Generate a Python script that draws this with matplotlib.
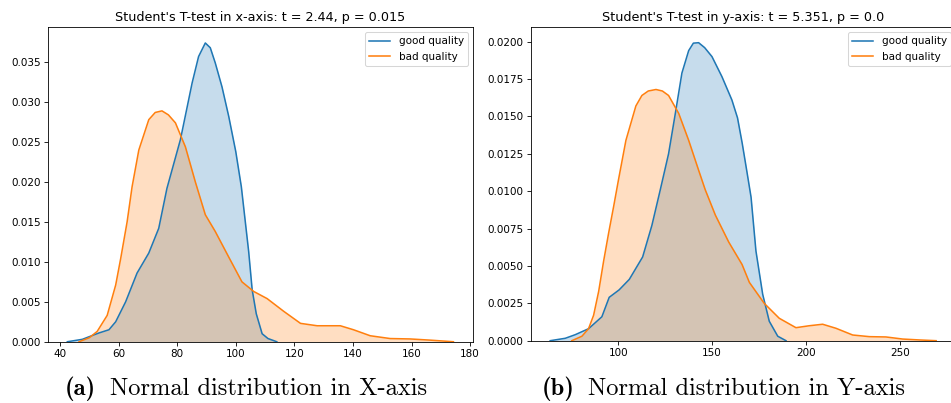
import matplotlib
matplotlib.use("Agg")
import matplotlib.pyplot as plt

# x-axis KDE
x_good_v = [42.5, 47.6, 53.3, 56.7, 59.0, 62.4, 66.3, 70.3, 73.7, 76.5, 81.1, 85.1, 87.3,
            89.6, 91.3, 93.0, 95.3, 97.6, 100.0, 101.9, 104.4, 105.6, 107.0, 109.0, 111.0, 114.0]
x_good_d = [0.0, 0.0003, 0.0011, 0.0015, 0.0025, 0.0050, 0.0086, 0.0111, 0.0142, 0.0192, 0.0253,
            0.0324, 0.0357, 0.0374, 0.0368, 0.0349, 0.0319, 0.0282, 0.0238, 0.0194, 0.0113,
            0.0065, 0.0035, 0.0010, 0.0004, 0.0]
x_bad_v = [46.5, 50.0, 52.7, 56.1, 59.0, 60.7, 62.9, 64.6, 66.9, 70.3, 72.5, 74.8, 77.0, 79.4,
           82.8, 86.2, 89.6, 93.0, 97.6, 102.1, 106.1, 110.7, 116.4, 122.1, 127.8, 135.7,
           140.2, 145.9, 152.7, 159.5, 166.4, 174.3]
x_bad_d = [0.0, 0.0005, 0.0013, 0.0033, 0.0071, 0.0104, 0.0150, 0.0194, 0.0240, 0.0278, 0.0287,
           0.0289, 0.0284, 0.0274, 0.0244, 0.0200, 0.0159, 0.0138, 0.0106, 0.0075, 0.0063,
           0.0054, 0.0038, 0.0023, 0.0020, 0.0020, 0.0015, 0.00075, 0.0004, 0.00035, 0.0002, 0.0]

# y-axis KDE
y_good_v = [63.8, 71.8, 77.1, 84.2, 91.3, 95.2, 100.5, 105.9, 113.0, 117.9, 122.4, 126.8, 130.4,
            133.9, 137.5, 140.0, 142.8, 146.0, 149.9, 155.2, 160.5, 163.5, 166.0, 168.5, 170.7,
            173.3, 176.9, 180.4, 184.9, 189.3]
y_good_d = [0.0, 0.00016, 0.0004, 0.0008, 0.0016, 0.0029, 0.0034, 0.0041, 0.0056, 0.0077, 0.0101,
            0.0125, 0.0152, 0.0179, 0.0194, 0.0199, 0.01993, 0.0196, 0.0190, 0.01766, 0.0161,
            0.0149, 0.0132, 0.0113, 0.0096, 0.0060, 0.0031, 0.0013, 0.0003, 0.0]
y_bad_v = [75.3, 80.7, 84.2, 86.9, 89.6, 92.2, 94.9, 97.6, 100.2, 104.1, 109.4, 112.6, 116.0,
           120.1, 123.5, 126.8, 132.2, 137.5, 142.8, 146.3, 151.7, 158.8, 165.9, 169.8, 177.7,
           185.7, 194.6, 201.7, 208.8, 215.9, 224.8, 233.7, 242.5, 251.4, 260.3, 269.2]
y_bad_d = [0.0, 0.0003, 0.0008, 0.0017, 0.0033, 0.0053, 0.0072, 0.0090, 0.0108, 0.0134, 0.0157,
           0.0164, 0.0167, 0.0168, 0.0167, 0.0164, 0.0152, 0.0134, 0.0114, 0.0101, 0.0084,
           0.0066, 0.0051, 0.0039, 0.0025, 0.0015, 0.00087, 0.0010, 0.0011, 0.00083, 0.00038,
           0.00027, 0.00025, 0.00011, 0.00005, 0.0]

titles = ["Student's T-test in x-axis: t = 2.44, p = 0.015",
          "Student's T-test in y-axis: t = 5.351, p = 0.0"]
cap_labels = ["(a)", "(b)"]
cap_texts = ["Normal distribution in X-axis", "Normal distribution in Y-axis"]

fig = plt.figure(figsize=(951 / 75, 403 / 75), dpi=75)
ax1 = fig.add_axes([0.0505, 0.152, 0.4469, 0.781])
ax2 = fig.add_axes([0.5584, 0.1546, 0.4469, 0.7784])

panels = [(ax1, x_good_v, x_good_d, x_bad_v, x_bad_d, (35.9, 181.0), (0, 0.0394)),
          (ax2, y_good_v, y_good_d, y_bad_v, y_bad_d, (53.6, 279.8), (0, 0.02098))]

for i, (ax, gv, gd, bv, bd, xl, yl) in enumerate(panels):
    ax.plot(gv, gd, color='#1f77b4', lw=1.5, label='good quality')
    ax.fill_between(gv, gd, color='#1f77b4', alpha=0.25, lw=0)
    ax.plot(bv, bd, color='#ff7f0e', lw=1.5, label='bad quality')
    ax.fill_between(bv, bd, color='#ff7f0e', alpha=0.25, lw=0)
    ax.set_xlim(*xl)
    ax.set_ylim(*yl)
    ax.set_title(titles[i], fontsize=12.3)
    ax.legend(loc='upper right')

ax2.set_yticks([0, 0.0025, 0.005, 0.0075, 0.01, 0.0125, 0.015, 0.0175, 0.02])
ax2.set_yticklabels(['%.4f' % t for t in ax2.get_yticks()])

# captions under each panel: bold label + roman text
for lx, tx, lab, txt in zip([0.0683, 0.5696], [0.1157, 0.618], cap_labels, cap_texts):
    fig.text(lx, 0.02, lab, family='cmb10', fontsize=23.5, ha='left', va='baseline')
    fig.text(tx, 0.02, txt, family='cmr10', fontsize=23.5, ha='left', va='baseline')

fig.savefig('out.png', dpi=75)
